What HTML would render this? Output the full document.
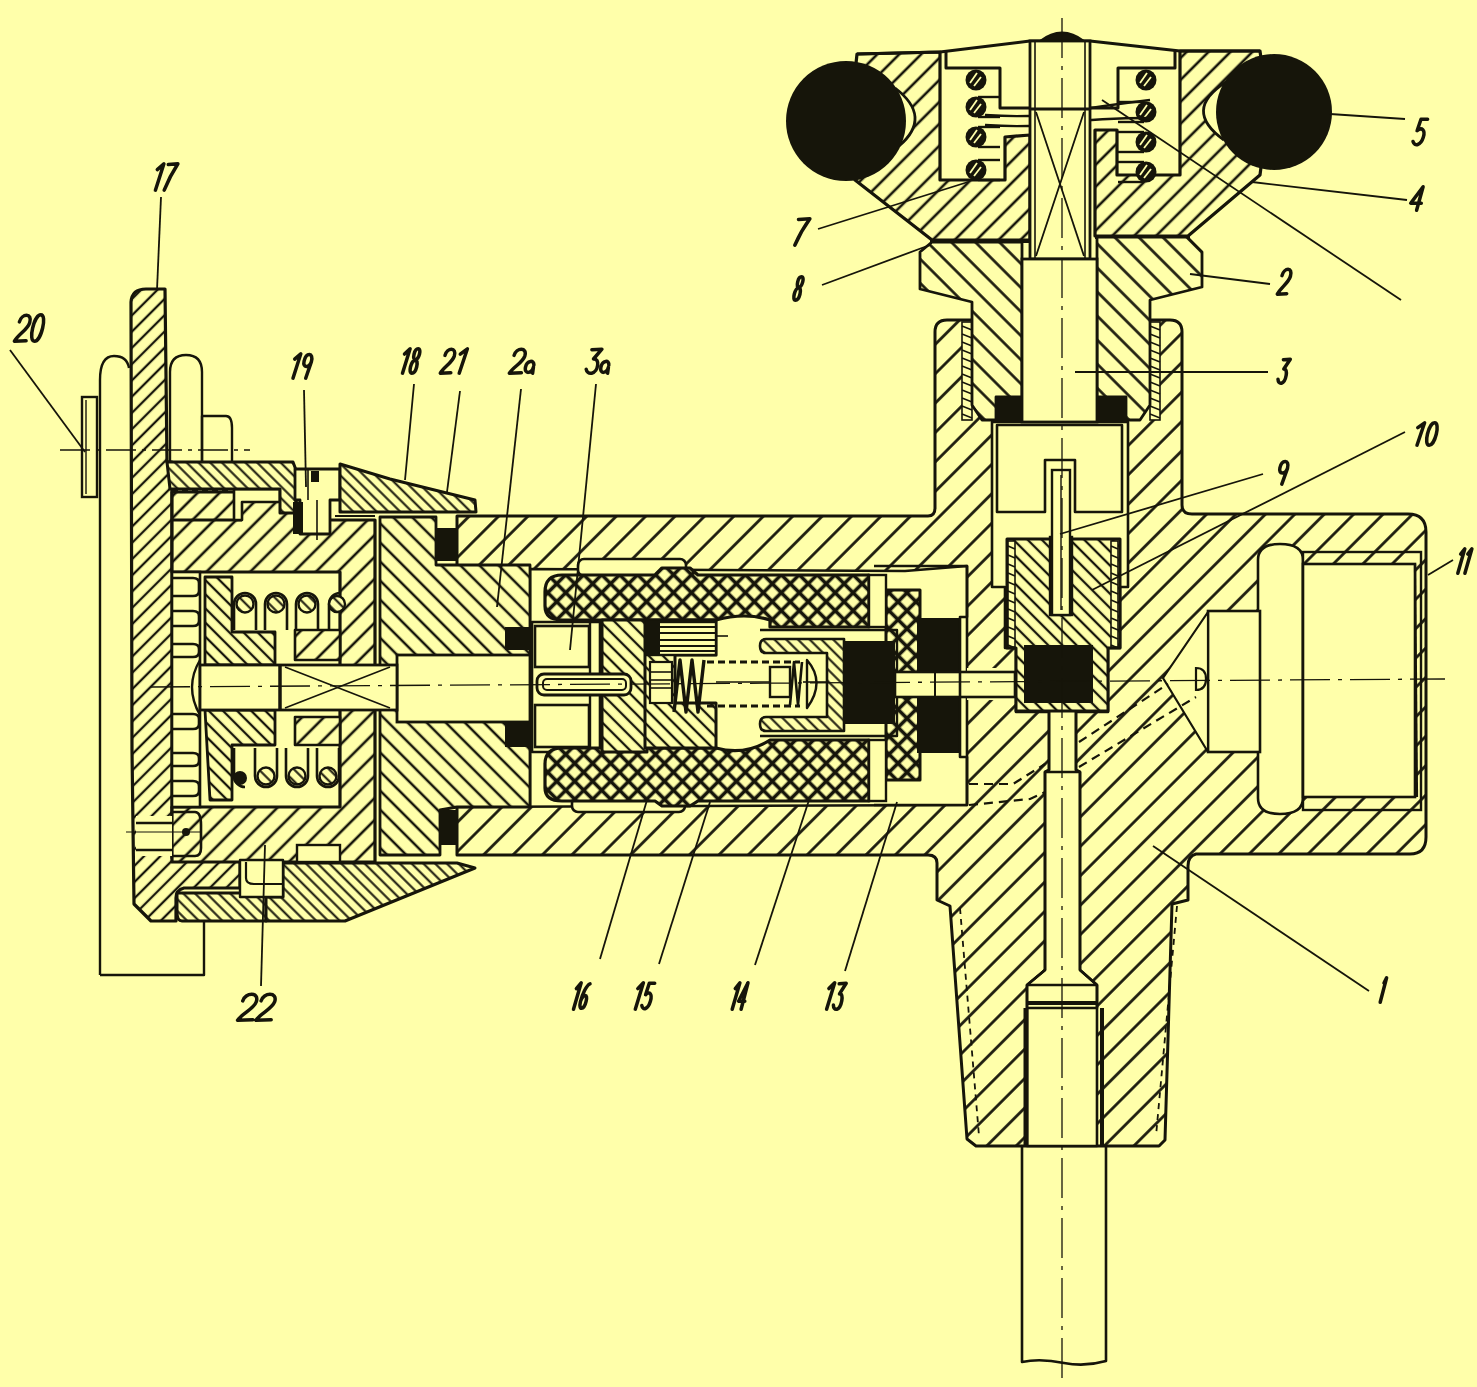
<!DOCTYPE html>
<html><head><meta charset="utf-8"><style>
html,body{margin:0;padding:0;background:#FFFFAA;}
svg{display:block;}
</style></head><body>
<svg width="1477" height="1387" viewBox="0 0 1477 1387">
<defs><pattern id="F22" patternUnits="userSpaceOnUse" width="15.5" height="15.5" patternTransform="rotate(-45)"><rect width="15.5" height="15.5" fill="#FFFFAA"/><line x1="0" y1="7.75" x2="15.5" y2="7.75" stroke="#16150a" stroke-width="2.6"/></pattern><pattern id="F20" patternUnits="userSpaceOnUse" width="14" height="14" patternTransform="rotate(-45)"><rect width="14" height="14" fill="#FFFFAA"/><line x1="0" y1="7.0" x2="14" y2="7.0" stroke="#16150a" stroke-width="2.5"/></pattern><pattern id="F28" patternUnits="userSpaceOnUse" width="20.8" height="20.8" patternTransform="rotate(-45)"><rect width="20.8" height="20.8" fill="#FFFFAA"/><line x1="0" y1="10.4" x2="20.8" y2="10.4" stroke="#16150a" stroke-width="2.7"/></pattern><pattern id="F16" patternUnits="userSpaceOnUse" width="11.5" height="11.5" patternTransform="rotate(-45)"><rect width="11.5" height="11.5" fill="#FFFFAA"/><line x1="0" y1="5.75" x2="11.5" y2="5.75" stroke="#16150a" stroke-width="2.3"/></pattern><pattern id="B24" patternUnits="userSpaceOnUse" width="17" height="17" patternTransform="rotate(45)"><rect width="17" height="17" fill="#FFFFAA"/><line x1="0" y1="8.5" x2="17" y2="8.5" stroke="#16150a" stroke-width="2.6"/></pattern><pattern id="B19" patternUnits="userSpaceOnUse" width="13.5" height="13.5" patternTransform="rotate(45)"><rect width="13.5" height="13.5" fill="#FFFFAA"/><line x1="0" y1="6.75" x2="13.5" y2="6.75" stroke="#16150a" stroke-width="2.5"/></pattern><pattern id="B14" patternUnits="userSpaceOnUse" width="10" height="10" patternTransform="rotate(45)"><rect width="10" height="10" fill="#FFFFAA"/><line x1="0" y1="5.0" x2="10" y2="5.0" stroke="#16150a" stroke-width="2.3"/></pattern><pattern id="B10" patternUnits="userSpaceOnUse" width="8.3" height="8.3" patternTransform="rotate(45)"><rect width="8.3" height="8.3" fill="#FFFFAA"/><line x1="0" y1="4.15" x2="8.3" y2="4.15" stroke="#16150a" stroke-width="2.0"/></pattern><pattern id="X" patternUnits="userSpaceOnUse" width="12.7" height="12.7" patternTransform="rotate(45)"><rect width="12.7" height="12.7" fill="#FFFFAA"/><line x1="0" y1="6.35" x2="12.7" y2="6.35" stroke="#16150a" stroke-width="3.6"/><line x1="6.35" y1="0" x2="6.35" y2="12.7" stroke="#16150a" stroke-width="3.6"/></pattern></defs>
<rect width="1477" height="1387" fill="#FFFFAA"/>
<path d="M457,516 L928,516 Q935,516 935,508 L935,332 Q935,320 947,320 L1170,320 Q1182,320 1182,332 L1182,505 Q1182,514 1192,514 L1408,514 Q1426,514 1426,532 L1426,837 Q1426,854 1410,854 L1196,854 Q1188,856 1188,866 L1188,900 L1172,904 L1165,1140 L1159,1146 L976,1146 L967,1139 L950,906 L937,900 L937,863 Q937,855 928,855 L457,855 Z" fill="url(#F28)" stroke="#16150a" stroke-width="3" stroke-linejoin="round" />
<path d="M530,569 L905,571 L905,571 L967,566 L967,805 L457,807 L457,805 L530,805 Z" fill="#FFFFAA" stroke="#16150a" stroke-width="2.6" stroke-linejoin="round" />
<rect x="578" y="559" width="108" height="17" rx="6" fill="#FFFFAA" stroke="#16150a" stroke-width="2.6"/>
<rect x="572" y="797" width="113" height="15" rx="6" fill="#FFFFAA" stroke="#16150a" stroke-width="2.6"/>
<path d="M992,422 L1128,422 L1128,587 L1120,587 L1120,648 L1108,648 L1108,712 L1076,712 L1076,770 L1080,772 L1080,970 L1097,985 L1097,1146 L1027,1146 L1027,985 L1045,970 L1045,772 L1049,770 L1049,712 L1016,712 L1016,648 L1005,648 L1005,587 L992,587 Z" fill="#FFFFAA" stroke="#16150a" stroke-width="2.6" stroke-linejoin="round" />
<rect x="967" y="668" width="40" height="32" rx="0" fill="#FFFFAA" stroke="#16150a" stroke-width="0"/>
<path d="M1258,560 Q1258,544 1280,544 Q1303,544 1303,560 L1303,798 Q1303,814 1280,814 Q1258,814 1258,798 Z" fill="#FFFFAA" stroke="#16150a" stroke-width="2.6" stroke-linejoin="round" />
<rect x="1303" y="552" width="118" height="258" rx="0" fill="url(#F28)" stroke="#16150a" stroke-width="2.4"/>
<rect x="1303" y="564" width="112" height="233" rx="0" fill="#FFFFAA" stroke="#16150a" stroke-width="2.6"/>
<line x1="1415" y1="564" x2="1417" y2="797" stroke="#16150a" stroke-width="2.2"/>
<rect x="1208" y="611" width="52" height="141" rx="0" fill="#FFFFAA" stroke="#16150a" stroke-width="2.6"/>
<path d="M1163,678 L1208,612 L1208,752 Z" fill="#FFFFAA" stroke="#16150a" stroke-width="2.2" stroke-linejoin="round" />
<rect x="962" y="322" width="10" height="98" rx="0" fill="#FFFFAA" stroke="#16150a" stroke-width="1.6"/>
<rect x="1150" y="322" width="10" height="98" rx="0" fill="#FFFFAA" stroke="#16150a" stroke-width="1.6"/>
<line x1="962" y1="326" x2="972" y2="330" stroke="#16150a" stroke-width="1.4"/>
<line x1="1150" y1="326" x2="1160" y2="330" stroke="#16150a" stroke-width="1.4"/>
<line x1="962" y1="334" x2="972" y2="338" stroke="#16150a" stroke-width="1.4"/>
<line x1="1150" y1="334" x2="1160" y2="338" stroke="#16150a" stroke-width="1.4"/>
<line x1="962" y1="342" x2="972" y2="346" stroke="#16150a" stroke-width="1.4"/>
<line x1="1150" y1="342" x2="1160" y2="346" stroke="#16150a" stroke-width="1.4"/>
<line x1="962" y1="350" x2="972" y2="354" stroke="#16150a" stroke-width="1.4"/>
<line x1="1150" y1="350" x2="1160" y2="354" stroke="#16150a" stroke-width="1.4"/>
<line x1="962" y1="358" x2="972" y2="362" stroke="#16150a" stroke-width="1.4"/>
<line x1="1150" y1="358" x2="1160" y2="362" stroke="#16150a" stroke-width="1.4"/>
<line x1="962" y1="366" x2="972" y2="370" stroke="#16150a" stroke-width="1.4"/>
<line x1="1150" y1="366" x2="1160" y2="370" stroke="#16150a" stroke-width="1.4"/>
<line x1="962" y1="374" x2="972" y2="378" stroke="#16150a" stroke-width="1.4"/>
<line x1="1150" y1="374" x2="1160" y2="378" stroke="#16150a" stroke-width="1.4"/>
<line x1="962" y1="382" x2="972" y2="386" stroke="#16150a" stroke-width="1.4"/>
<line x1="1150" y1="382" x2="1160" y2="386" stroke="#16150a" stroke-width="1.4"/>
<line x1="962" y1="390" x2="972" y2="394" stroke="#16150a" stroke-width="1.4"/>
<line x1="1150" y1="390" x2="1160" y2="394" stroke="#16150a" stroke-width="1.4"/>
<line x1="962" y1="398" x2="972" y2="402" stroke="#16150a" stroke-width="1.4"/>
<line x1="1150" y1="398" x2="1160" y2="402" stroke="#16150a" stroke-width="1.4"/>
<line x1="962" y1="406" x2="972" y2="410" stroke="#16150a" stroke-width="1.4"/>
<line x1="1150" y1="406" x2="1160" y2="410" stroke="#16150a" stroke-width="1.4"/>
<line x1="962" y1="414" x2="972" y2="418" stroke="#16150a" stroke-width="1.4"/>
<line x1="1150" y1="414" x2="1160" y2="418" stroke="#16150a" stroke-width="1.4"/>
<line x1="960" y1="908" x2="979" y2="1136" stroke="#16150a" stroke-width="1.8" stroke-dasharray="6 5"/>
<line x1="1177" y1="906" x2="1156" y2="1136" stroke="#16150a" stroke-width="1.8" stroke-dasharray="6 5"/>
<line x1="1026" y1="1008" x2="1026" y2="1146" stroke="#16150a" stroke-width="5"/>
<line x1="1102" y1="1008" x2="1102" y2="1146" stroke="#16150a" stroke-width="4"/>
<path d="M1049,712 L1049,770 L1045,772 L1045,970 L1027,985 L1027,1008 L1097,1008 L1097,985 L1080,970 L1080,772 L1076,770 L1076,712" fill="none" stroke="#16150a" stroke-width="2.6" stroke-linejoin="round" />
<line x1="1045" y1="772" x2="1080" y2="772" stroke="#16150a" stroke-width="2.4"/>
<line x1="1027" y1="985" x2="1097" y2="985" stroke="#16150a" stroke-width="2.4"/>
<line x1="1027" y1="1003" x2="1097" y2="1003" stroke="#16150a" stroke-width="4"/>
<path d="M1022,1146 L1022,1362 Q1040,1358 1064,1363 Q1085,1367 1106,1361 L1106,1146" fill="none" stroke="#16150a" stroke-width="2.6" stroke-linejoin="round" />
<path d="M857,54 L940,52 L940,180 L1005,180 L1005,137 L1030,135 L1030,240 L932,240 L855,180 L850,120 Z" fill="url(#F22)" stroke="#16150a" stroke-width="3.2" stroke-linejoin="round" />
<path d="M895,88 Q933,117 899,146 L870,146 L870,88 Z" fill="#FFFFAA" stroke="#16150a" stroke-width="0" stroke-linejoin="round" />
<path d="M895,88 Q933,117 899,146" fill="none" stroke="#16150a" stroke-width="2.8" stroke-linejoin="round" />
<path d="M1180,51 L1260,51 L1268,112 L1260,175 L1188,236 L1095,236 L1095,130 L1117,130 L1117,175 L1180,175 Z" fill="url(#F22)" stroke="#16150a" stroke-width="3.2" stroke-linejoin="round" />
<path d="M1226,82 Q1182,110 1224,140 L1250,140 L1250,82 Z" fill="#FFFFAA" stroke="#16150a" stroke-width="0" stroke-linejoin="round" />
<path d="M1226,82 Q1182,110 1224,140" fill="none" stroke="#16150a" stroke-width="2.8" stroke-linejoin="round" />
<path d="M857,54 L940,52 L1030,41 L1090,41 L1180,51 L1260,51" fill="none" stroke="#16150a" stroke-width="3" stroke-linejoin="round" />
<path d="M1040,41 Q1062,24 1084,41" fill="#16150a" stroke="#16150a" stroke-width="2" stroke-linejoin="round" />
<path d="M946,52 L946,68 L1000,68 L1000,108 L1032,108" fill="none" stroke="#16150a" stroke-width="3" stroke-linejoin="round" />
<path d="M1175,51 L1175,68 L1118,68 L1118,108 L1087,108" fill="none" stroke="#16150a" stroke-width="3" stroke-linejoin="round" />
<circle cx="976" cy="80" r="10.5" fill="#16150a"/>
<line x1="971" y1="84" x2="978" y2="74" stroke="#16150a" stroke-width="2.0"/>
<line x1="974" y1="86" x2="981" y2="77" stroke="#FFFFAA" stroke-width="1.8"/>
<line x1="970" y1="83" x2="977" y2="73" stroke="#FFFFAA" stroke-width="1.8"/>
<circle cx="976" cy="107" r="10.5" fill="#16150a"/>
<line x1="971" y1="111" x2="978" y2="101" stroke="#16150a" stroke-width="2.0"/>
<line x1="974" y1="113" x2="981" y2="104" stroke="#FFFFAA" stroke-width="1.8"/>
<line x1="970" y1="110" x2="977" y2="100" stroke="#FFFFAA" stroke-width="1.8"/>
<circle cx="976" cy="137" r="10.5" fill="#16150a"/>
<line x1="971" y1="141" x2="978" y2="131" stroke="#16150a" stroke-width="2.0"/>
<line x1="974" y1="143" x2="981" y2="134" stroke="#FFFFAA" stroke-width="1.8"/>
<line x1="970" y1="140" x2="977" y2="130" stroke="#FFFFAA" stroke-width="1.8"/>
<circle cx="976" cy="170" r="10.5" fill="#16150a"/>
<line x1="971" y1="174" x2="978" y2="164" stroke="#16150a" stroke-width="2.0"/>
<line x1="974" y1="176" x2="981" y2="167" stroke="#FFFFAA" stroke-width="1.8"/>
<line x1="970" y1="173" x2="977" y2="163" stroke="#FFFFAA" stroke-width="1.8"/>
<circle cx="1146" cy="80" r="10.5" fill="#16150a"/>
<line x1="1141" y1="84" x2="1148" y2="74" stroke="#16150a" stroke-width="2.0"/>
<line x1="1144" y1="86" x2="1151" y2="77" stroke="#FFFFAA" stroke-width="1.8"/>
<line x1="1140" y1="83" x2="1147" y2="73" stroke="#FFFFAA" stroke-width="1.8"/>
<circle cx="1146" cy="112" r="10.5" fill="#16150a"/>
<line x1="1141" y1="116" x2="1148" y2="106" stroke="#16150a" stroke-width="2.0"/>
<line x1="1144" y1="118" x2="1151" y2="109" stroke="#FFFFAA" stroke-width="1.8"/>
<line x1="1140" y1="115" x2="1147" y2="105" stroke="#FFFFAA" stroke-width="1.8"/>
<circle cx="1146" cy="142" r="10.5" fill="#16150a"/>
<line x1="1141" y1="146" x2="1148" y2="136" stroke="#16150a" stroke-width="2.0"/>
<line x1="1144" y1="148" x2="1151" y2="139" stroke="#FFFFAA" stroke-width="1.8"/>
<line x1="1140" y1="145" x2="1147" y2="135" stroke="#FFFFAA" stroke-width="1.8"/>
<circle cx="1146" cy="172" r="10.5" fill="#16150a"/>
<line x1="1141" y1="176" x2="1148" y2="166" stroke="#16150a" stroke-width="2.0"/>
<line x1="1144" y1="178" x2="1151" y2="169" stroke="#FFFFAA" stroke-width="1.8"/>
<line x1="1140" y1="175" x2="1147" y2="165" stroke="#FFFFAA" stroke-width="1.8"/>
<line x1="978" y1="97" x2="1000" y2="97" stroke="#16150a" stroke-width="2.4"/>
<line x1="978" y1="117" x2="1000" y2="117" stroke="#16150a" stroke-width="2.4"/>
<line x1="978" y1="127" x2="1000" y2="127" stroke="#16150a" stroke-width="2.4"/>
<line x1="978" y1="147" x2="1000" y2="147" stroke="#16150a" stroke-width="2.4"/>
<line x1="978" y1="160" x2="1000" y2="160" stroke="#16150a" stroke-width="2.4"/>
<line x1="978" y1="180" x2="1000" y2="180" stroke="#16150a" stroke-width="2.4"/>
<line x1="1118" y1="102" x2="1144" y2="102" stroke="#16150a" stroke-width="2.4"/>
<line x1="1118" y1="122" x2="1144" y2="122" stroke="#16150a" stroke-width="2.4"/>
<line x1="1118" y1="132" x2="1144" y2="132" stroke="#16150a" stroke-width="2.4"/>
<line x1="1118" y1="152" x2="1144" y2="152" stroke="#16150a" stroke-width="2.4"/>
<line x1="1118" y1="162" x2="1144" y2="162" stroke="#16150a" stroke-width="2.4"/>
<line x1="1118" y1="182" x2="1144" y2="182" stroke="#16150a" stroke-width="2.4"/>
<path d="M985,115 Q1030,118 1060,113 Q1100,106 1150,100" fill="none" stroke="#16150a" stroke-width="2.4" stroke-linejoin="round" />
<path d="M985,125 Q1030,128 1060,123 Q1100,118 1150,118" fill="none" stroke="#16150a" stroke-width="2.4" stroke-linejoin="round" />
<rect x="1030" y="41" width="60" height="218" rx="0" fill="#FFFFAA" stroke="#16150a" stroke-width="2.8"/>
<line x1="1035" y1="41" x2="1035" y2="259" stroke="#16150a" stroke-width="1.6"/>
<line x1="1085" y1="41" x2="1085" y2="259" stroke="#16150a" stroke-width="1.6"/>
<line x1="1030" y1="109" x2="1090" y2="109" stroke="#16150a" stroke-width="3"/>
<line x1="1036" y1="112" x2="1084" y2="256" stroke="#16150a" stroke-width="1.8"/>
<line x1="1084" y1="112" x2="1036" y2="256" stroke="#16150a" stroke-width="1.8"/>
<circle cx="846" cy="121" r="60" fill="#16150a"/>
<circle cx="1274" cy="112" r="58" fill="#16150a"/>
<line x1="930" y1="241" x2="1030" y2="241" stroke="#16150a" stroke-width="4"/>
<line x1="1095" y1="237" x2="1190" y2="237" stroke="#16150a" stroke-width="4"/>
<path d="M920,252 L932,242 L1022,242 L1022,397 L996,397 L996,420 L982,420 L972,405 L972,302 L920,289 Z" fill="url(#B24)" stroke="#16150a" stroke-width="2.8" stroke-linejoin="round" />
<path d="M1097,237 L1187,237 L1202,252 L1202,287 L1150,300 L1150,405 L1140,420 L1126,420 L1126,397 L1097,397 Z" fill="url(#B24)" stroke="#16150a" stroke-width="2.8" stroke-linejoin="round" />
<rect x="1022" y="259" width="75" height="163" rx="0" fill="#FFFFAA" stroke="#16150a" stroke-width="2.8"/>
<rect x="996" y="397" width="26" height="25" rx="0" fill="#16150a" stroke="#16150a" stroke-width="0"/>
<rect x="1097" y="396" width="29" height="26" rx="0" fill="#16150a" stroke="#16150a" stroke-width="0"/>
<path d="M997,425 L1122,425 L1122,512 L1075,512 L1075,460 L1045,460 L1045,512 L997,512 Z" fill="#FFFFAA" stroke="#16150a" stroke-width="2.6" stroke-linejoin="round" />
<path d="M1007,539 L1120,539 L1120,648 L1108,648 L1108,711 L1016,711 L1016,648 L1007,648 Z" fill="url(#B14)" stroke="#16150a" stroke-width="3" stroke-linejoin="round" />
<rect x="1008" y="541" width="7" height="106" rx="0" fill="#FFFFAA" stroke="#16150a" stroke-width="1.6"/>
<rect x="1111" y="541" width="7" height="106" rx="0" fill="#FFFFAA" stroke="#16150a" stroke-width="1.6"/>
<line x1="1008" y1="546" x2="1015" y2="549" stroke="#16150a" stroke-width="1.6"/>
<line x1="1111" y1="546" x2="1118" y2="549" stroke="#16150a" stroke-width="1.6"/>
<line x1="1008" y1="555" x2="1015" y2="558" stroke="#16150a" stroke-width="1.6"/>
<line x1="1111" y1="555" x2="1118" y2="558" stroke="#16150a" stroke-width="1.6"/>
<line x1="1008" y1="564" x2="1015" y2="567" stroke="#16150a" stroke-width="1.6"/>
<line x1="1111" y1="564" x2="1118" y2="567" stroke="#16150a" stroke-width="1.6"/>
<line x1="1008" y1="573" x2="1015" y2="576" stroke="#16150a" stroke-width="1.6"/>
<line x1="1111" y1="573" x2="1118" y2="576" stroke="#16150a" stroke-width="1.6"/>
<line x1="1008" y1="582" x2="1015" y2="585" stroke="#16150a" stroke-width="1.6"/>
<line x1="1111" y1="582" x2="1118" y2="585" stroke="#16150a" stroke-width="1.6"/>
<line x1="1008" y1="591" x2="1015" y2="594" stroke="#16150a" stroke-width="1.6"/>
<line x1="1111" y1="591" x2="1118" y2="594" stroke="#16150a" stroke-width="1.6"/>
<line x1="1008" y1="600" x2="1015" y2="603" stroke="#16150a" stroke-width="1.6"/>
<line x1="1111" y1="600" x2="1118" y2="603" stroke="#16150a" stroke-width="1.6"/>
<line x1="1008" y1="609" x2="1015" y2="612" stroke="#16150a" stroke-width="1.6"/>
<line x1="1111" y1="609" x2="1118" y2="612" stroke="#16150a" stroke-width="1.6"/>
<line x1="1008" y1="618" x2="1015" y2="621" stroke="#16150a" stroke-width="1.6"/>
<line x1="1111" y1="618" x2="1118" y2="621" stroke="#16150a" stroke-width="1.6"/>
<line x1="1008" y1="627" x2="1015" y2="630" stroke="#16150a" stroke-width="1.6"/>
<line x1="1111" y1="627" x2="1118" y2="630" stroke="#16150a" stroke-width="1.6"/>
<line x1="1008" y1="636" x2="1015" y2="639" stroke="#16150a" stroke-width="1.6"/>
<line x1="1111" y1="636" x2="1118" y2="639" stroke="#16150a" stroke-width="1.6"/>
<line x1="1008" y1="645" x2="1015" y2="648" stroke="#16150a" stroke-width="1.6"/>
<line x1="1111" y1="645" x2="1118" y2="648" stroke="#16150a" stroke-width="1.6"/>
<rect x="1050" y="537" width="22" height="78" rx="0" fill="#FFFFAA" stroke="#16150a" stroke-width="2.4"/>
<rect x="1052" y="470" width="18" height="145" rx="0" fill="#FFFFAA" stroke="#16150a" stroke-width="2.4"/>
<line x1="1061" y1="475" x2="1061" y2="610" stroke="#16150a" stroke-width="1.4"/>
<rect x="1024" y="645" width="69" height="58" rx="0" fill="#16150a" stroke="#16150a" stroke-width="0"/>
<path d="M1196,668 Q1206,668 1206,679 Q1206,690 1196,690 Z" fill="#FFFFAA" stroke="#16150a" stroke-width="2.2"/>
<path d="M969,784 L1013,784 L1045,764" fill="none" stroke="#16150a" stroke-width="2.2" stroke-linejoin="round" stroke-dasharray="9 6"/>
<path d="M1079,742 L1168,684" fill="none" stroke="#16150a" stroke-width="2.2" stroke-linejoin="round" stroke-dasharray="9 6"/>
<path d="M969,805 L1030,799 L1045,792" fill="none" stroke="#16150a" stroke-width="2.2" stroke-linejoin="round" stroke-dasharray="9 6"/>
<path d="M1079,767 L1196,697" fill="none" stroke="#16150a" stroke-width="2.2" stroke-linejoin="round" stroke-dasharray="9 6"/>
<path d="M380,517 L436,517 L436,565 L530,565 L530,807 L457,807 L440,810 L440,855 L380,855 Z" fill="url(#B19)" stroke="#16150a" stroke-width="2.8" stroke-linejoin="round" />
<rect x="397" y="655" width="133" height="67" rx="0" fill="#FFFFAA" stroke="#16150a" stroke-width="2.8"/>
<rect x="436" y="528" width="20" height="33" rx="0" fill="#16150a" stroke="#16150a" stroke-width="0"/>
<rect x="440" y="810" width="17" height="35" rx="0" fill="#16150a" stroke="#16150a" stroke-width="0"/>
<rect x="505" y="627" width="25" height="23" rx="0" fill="#16150a" stroke="#16150a" stroke-width="0"/>
<rect x="505" y="722" width="25" height="25" rx="0" fill="#16150a" stroke="#16150a" stroke-width="0"/>
<path d="M532,622 L600,622 L600,752 L532,752 Z" fill="#FFFFAA" stroke="#16150a" stroke-width="2.6" stroke-linejoin="round" />
<rect x="535" y="626" width="54" height="41" rx="0" fill="#FFFFAA" stroke="#16150a" stroke-width="2.6"/>
<rect x="535" y="705" width="54" height="42" rx="0" fill="#FFFFAA" stroke="#16150a" stroke-width="2.6"/>
<line x1="590" y1="622" x2="590" y2="752" stroke="#16150a" stroke-width="2.4"/>
<path d="M545,592 Q545,575 562,575 L655,575 L662,568 L690,568 L698,575 L869,575 L869,627 L770,627 L770,620 Q745,612 716,620 L600,620 L562,620 Q545,620 545,606 Z" fill="url(#X)" stroke="#16150a" stroke-width="3.2" stroke-linejoin="round" />
<path d="M545,764 Q545,748 562,748 L716,748 Q745,756 770,740 L869,740 L869,801 L698,801 L690,806 L662,806 L655,801 L562,801 Q545,801 545,788 Z" fill="url(#X)" stroke="#16150a" stroke-width="3.2" stroke-linejoin="round" />
<path d="M886,590 L920,590 L920,780 L886,780 Z" fill="url(#X)" stroke="#16150a" stroke-width="3" stroke-linejoin="round" />
<rect x="869" y="575" width="17" height="52" rx="0" fill="#FFFFAA" stroke="#16150a" stroke-width="2.4"/>
<rect x="869" y="740" width="17" height="61" rx="0" fill="#FFFFAA" stroke="#16150a" stroke-width="2.4"/>
<path d="M602,620 L647,620 L647,752 L602,752 Z" fill="url(#B14)" stroke="#16150a" stroke-width="3" stroke-linejoin="round" />
<path d="M645,620 L716,620 L716,655 L675,655 L675,703 L716,703 L716,748 L645,748 Z" fill="url(#B14)" stroke="#16150a" stroke-width="3" stroke-linejoin="round" />
<rect x="647" y="622" width="69" height="33" rx="0" fill="#FFFFAA" stroke="#16150a" stroke-width="2.4"/>
<rect x="647" y="622" width="13" height="33" rx="0" fill="#16150a" stroke="#16150a" stroke-width="0"/>
<line x1="658" y1="627" x2="716" y2="627" stroke="#16150a" stroke-width="2.0"/>
<line x1="658" y1="633" x2="716" y2="633" stroke="#16150a" stroke-width="2.0"/>
<line x1="658" y1="640" x2="716" y2="640" stroke="#16150a" stroke-width="2.0"/>
<line x1="658" y1="646" x2="716" y2="646" stroke="#16150a" stroke-width="2.0"/>
<line x1="658" y1="651" x2="716" y2="651" stroke="#16150a" stroke-width="2.0"/>
<line x1="716" y1="636" x2="728" y2="636" stroke="#16150a" stroke-width="1.6"/>
<rect x="650" y="662" width="22" height="41" rx="0" fill="#FFFFAA" stroke="#16150a" stroke-width="2.2"/>
<line x1="650" y1="672" x2="672" y2="672" stroke="#16150a" stroke-width="1.6"/>
<line x1="650" y1="680" x2="672" y2="680" stroke="#16150a" stroke-width="1.6"/>
<line x1="650" y1="688" x2="672" y2="688" stroke="#16150a" stroke-width="1.6"/>
<rect x="537" y="674" width="94" height="21" rx="7" fill="#FFFFAA" stroke="#16150a" stroke-width="2.8"/>
<rect x="543" y="679" width="83" height="11" rx="4" fill="none" stroke="#16150a" stroke-width="2.0"/>
<path d="M760,630 L897,630 L897,736 L760,736" fill="none" stroke="#16150a" stroke-width="2.4" stroke-linejoin="round" />
<path d="M766,639 L844,639 L844,731 L766,731 Q760,731 760,724 Q760,717 766,717 L827,717 L827,653 L766,653 Q760,653 760,646 Q760,639 766,639 Z" fill="url(#B10)" stroke="#16150a" stroke-width="2.6" stroke-linejoin="round" />
<line x1="707" y1="662" x2="800" y2="662" stroke="#16150a" stroke-width="2.8" stroke-dasharray="7 4"/>
<line x1="707" y1="706" x2="800" y2="706" stroke="#16150a" stroke-width="2.8" stroke-dasharray="7 4"/>
<line x1="716" y1="682" x2="770" y2="682" stroke="#16150a" stroke-width="1.4"/>
<path d="M674,712 L680,660 L686,712 L692,660 L698,712 L704,660" fill="none" stroke="#16150a" stroke-width="3.4" stroke-linejoin="round" />
<path d="M790,705 L794,662 L798,705 L802,662" fill="none" stroke="#16150a" stroke-width="2.6" stroke-linejoin="round" />
<rect x="770" y="667" width="20" height="30" rx="0" fill="#FFFFAA" stroke="#16150a" stroke-width="2.4"/>
<path d="M807,660 Q826,682 807,708 Z" fill="#FFFFAA" stroke="#16150a" stroke-width="2.4" stroke-linejoin="round" />
<line x1="803" y1="682" x2="826" y2="682" stroke="#16150a" stroke-width="1.6"/>
<rect x="844" y="641" width="51" height="83" rx="0" fill="#16150a" stroke="#16150a" stroke-width="0"/>
<rect x="917" y="618" width="43" height="135" rx="0" fill="#16150a" stroke="#16150a" stroke-width="0"/>
<rect x="895" y="672" width="120" height="25" rx="0" fill="#FFFFAA" stroke="#16150a" stroke-width="2.6"/>
<line x1="935" y1="672" x2="935" y2="697" stroke="#16150a" stroke-width="2"/>
<line x1="960" y1="672" x2="960" y2="697" stroke="#16150a" stroke-width="2"/>
<path d="M874,566 L967,566 L967,617 L960,617 L960,757 L967,757 L967,805 L874,805" fill="none" stroke="#16150a" stroke-width="2.6" stroke-linejoin="round" />
<path d="M100,975 L100,380 Q100,356 114,356 Q127,356 129,368" fill="none" stroke="#16150a" stroke-width="2.4" stroke-linejoin="round" />
<path d="M100,975 L204,975 L204,921" fill="none" stroke="#16150a" stroke-width="2.4" stroke-linejoin="round" />
<path d="M170,462 L170,372 Q170,355 186,355 Q202,355 202,372 L202,462" fill="none" stroke="#16150a" stroke-width="2.4" stroke-linejoin="round" />
<path d="M202,462 L202,416 L226,416 Q232,416 232,428 L232,462" fill="none" stroke="#16150a" stroke-width="2.4" stroke-linejoin="round" />
<rect x="82" y="397" width="15" height="100" rx="0" fill="none" stroke="#16150a" stroke-width="2.4"/>
<line x1="86" y1="400" x2="86" y2="494" stroke="#16150a" stroke-width="1.4"/>
<path d="M131,302 Q132,289 146,289 L165,289 L167,462 L172,462 L172,858 L240,858 L240,888 L184,888 Q176,890 176,898 L176,921 L151,921 L134,904 L132,750 Z" fill="url(#F16)" stroke="#16150a" stroke-width="3.2" stroke-linejoin="round" />
<path d="M172,492 L296,492 L296,520 L375,520 L375,862 L172,862 L172,807 L340,807 L340,572 L172,572 Z" fill="url(#F22)" stroke="#16150a" stroke-width="3.2" stroke-linejoin="round" />
<path d="M295,630 L340,630 L340,660 L295,660 Z" fill="url(#F22)" stroke="#16150a" stroke-width="2.6" stroke-linejoin="round" />
<path d="M295,717 L340,717 L340,745 L295,745 Z" fill="url(#F22)" stroke="#16150a" stroke-width="2.6" stroke-linejoin="round" />
<line x1="172" y1="520" x2="242" y2="520" stroke="#16150a" stroke-width="3"/>
<path d="M234,489 L280,489 L280,502 L242,502 L242,520 L234,520 Z" fill="#FFFFAA" stroke="#16150a" stroke-width="2.6" stroke-linejoin="round" />
<path d="M167,462 L293,462 L296,470 L296,513 L280,513 L280,489 L170,489 Z" fill="url(#B10)" stroke="#16150a" stroke-width="3" stroke-linejoin="round" />
<line x1="172" y1="491" x2="232" y2="491" stroke="#16150a" stroke-width="2.2" stroke-dasharray="6 4"/>
<path d="M295,469 L340,469 L340,500 L330,500 L330,534 L300,534 L300,500 L295,500 Z" fill="#FFFFAA" stroke="#16150a" stroke-width="2.8" stroke-linejoin="round" />
<rect x="293" y="502" width="10" height="32" rx="0" fill="#16150a" stroke="#16150a" stroke-width="0"/>
<rect x="311" y="471" width="8" height="11" rx="0" fill="#16150a" stroke="#16150a" stroke-width="0"/>
<line x1="308" y1="469" x2="308" y2="500" stroke="#16150a" stroke-width="1.6"/>
<line x1="317" y1="500" x2="317" y2="540" stroke="#16150a" stroke-width="1.6"/>
<path d="M340,464 L390,479 L475,500 L476,512 L340,512 Z" fill="url(#B10)" stroke="#16150a" stroke-width="3" stroke-linejoin="round" />
<line x1="335" y1="516" x2="375" y2="516" stroke="#16150a" stroke-width="2.2"/>
<rect x="172" y="572" width="28" height="235" rx="0" fill="#FFFFAA" stroke="#16150a" stroke-width="2.6"/>
<path d="M172,578 L193,578 Q199,578 199,583 L199,591 Q199,596 193,596 L172,596" fill="none" stroke="#16150a" stroke-width="2.6" stroke-linejoin="round" />
<path d="M172,611 L193,611 Q199,611 199,616 L199,621 Q199,626 193,626 L172,626" fill="none" stroke="#16150a" stroke-width="2.6" stroke-linejoin="round" />
<path d="M172,644 L193,644 Q199,644 199,649 L199,652 Q199,657 193,657 L172,657" fill="none" stroke="#16150a" stroke-width="2.6" stroke-linejoin="round" />
<path d="M172,714 L193,714 Q199,714 199,719 L199,724 Q199,729 193,729 L172,729" fill="none" stroke="#16150a" stroke-width="2.6" stroke-linejoin="round" />
<path d="M172,753 L193,753 Q199,753 199,758 L199,761 Q199,766 193,766 L172,766" fill="none" stroke="#16150a" stroke-width="2.6" stroke-linejoin="round" />
<path d="M172,781 L193,781 Q199,781 199,786 L199,791 Q199,796 193,796 L172,796" fill="none" stroke="#16150a" stroke-width="2.6" stroke-linejoin="round" />
<path d="M205,577 L232,577 L232,632 L275,632 L275,665 L205,665 Z" fill="url(#B14)" stroke="#16150a" stroke-width="2.8" stroke-linejoin="round" />
<path d="M205,710 L275,710 L275,745 L232,745 L232,800 L210,800 Z" fill="url(#B14)" stroke="#16150a" stroke-width="2.8" stroke-linejoin="round" />
<path d="M234,630 L234,604 A11,11 0 0 1 256,604 L256,630" fill="none" stroke="#16150a" stroke-width="2.6" stroke-linejoin="round" />
<circle cx="245" cy="604" r="8.5" fill="url(#B10)" stroke="#16150a" stroke-width="2.4"/>
<path d="M265,630 L265,604 A11,11 0 0 1 287,604 L287,630" fill="none" stroke="#16150a" stroke-width="2.6" stroke-linejoin="round" />
<circle cx="276" cy="604" r="8.5" fill="url(#B10)" stroke="#16150a" stroke-width="2.4"/>
<path d="M296,630 L296,604 A11,11 0 0 1 318,604 L318,630" fill="none" stroke="#16150a" stroke-width="2.6" stroke-linejoin="round" />
<circle cx="307" cy="604" r="8.5" fill="url(#B10)" stroke="#16150a" stroke-width="2.4"/>
<path d="M329,630 L329,604 A11,11 0 0 1 340,593" fill="none" stroke="#16150a" stroke-width="2.6" stroke-linejoin="round" />
<circle cx="337" cy="604" r="8" fill="url(#B10)" stroke="#16150a" stroke-width="2.4"/>
<path d="M255,748 L255,776 A11,11 0 0 0 277,776 L277,748" fill="none" stroke="#16150a" stroke-width="2.6" stroke-linejoin="round" />
<circle cx="266" cy="776" r="8.5" fill="url(#B10)" stroke="#16150a" stroke-width="2.4"/>
<path d="M286,748 L286,776 A11,11 0 0 0 308,776 L308,748" fill="none" stroke="#16150a" stroke-width="2.6" stroke-linejoin="round" />
<circle cx="297" cy="776" r="8.5" fill="url(#B10)" stroke="#16150a" stroke-width="2.4"/>
<path d="M317,748 L317,776 A11,11 0 0 0 339,776 L339,748" fill="none" stroke="#16150a" stroke-width="2.6" stroke-linejoin="round" />
<circle cx="328" cy="776" r="8.5" fill="url(#B10)" stroke="#16150a" stroke-width="2.4"/>
<path d="M234,748 L234,776 A11,11 0 0 0 245,787" fill="none" stroke="#16150a" stroke-width="2.6" stroke-linejoin="round" />
<circle cx="240" cy="778" r="7" fill="#16150a" stroke="#16150a" stroke-width="0"/>
<rect x="200" y="665" width="197" height="45" rx="0" fill="#FFFFAA" stroke="#16150a" stroke-width="2.8"/>
<line x1="285" y1="667" x2="390" y2="708" stroke="#16150a" stroke-width="1.6"/>
<line x1="285" y1="708" x2="390" y2="667" stroke="#16150a" stroke-width="1.6"/>
<line x1="280" y1="665" x2="280" y2="710" stroke="#16150a" stroke-width="3.5"/>
<path d="M200,660 Q184,687 200,715" fill="none" stroke="#16150a" stroke-width="2.4" stroke-linejoin="round" />
<rect x="136" y="816" width="36" height="40" rx="0" fill="#FFFFAA" stroke="#16150a" stroke-width="0"/>
<line x1="136" y1="823" x2="172" y2="823" stroke="#16150a" stroke-width="2.6"/>
<line x1="136" y1="850" x2="172" y2="850" stroke="#16150a" stroke-width="2.6"/>
<path d="M172,812 L195,812 Q201,812 201,825 L201,848 Q201,856 195,856 L172,856" fill="none" stroke="#16150a" stroke-width="2.6" stroke-linejoin="round" />
<circle cx="186" cy="832" r="4" fill="#16150a" stroke="#16150a" stroke-width="0"/>
<line x1="126" y1="832" x2="200" y2="832" stroke="#16150a" stroke-width="1.2"/>
<path d="M177,893 L266,893 L266,921 L182,921 Q177,921 177,912 Z" fill="url(#B10)" stroke="#16150a" stroke-width="3" stroke-linejoin="round" />
<path d="M283,863 L457,863 L475,868 L345,921 L266,921 L266,897 L283,897 Z" fill="url(#B10)" stroke="#16150a" stroke-width="3" stroke-linejoin="round" />
<path d="M240,860 L283,860 L283,897 L240,897 Z" fill="#FFFFAA" stroke="#16150a" stroke-width="2.4" stroke-linejoin="round" />
<path d="M246,862 L246,878 Q246,884 254,884 L283,884" fill="none" stroke="#16150a" stroke-width="2.2" stroke-linejoin="round" />
<rect x="297" y="845" width="43" height="17" rx="0" fill="#FFFFAA" stroke="#16150a" stroke-width="2.4"/>
<line x1="1062" y1="18" x2="1062" y2="1385" stroke="#16150a" stroke-width="1.3" stroke-dasharray="40 8 4 8"/>
<line x1="150" y1="687" x2="1445" y2="679" stroke="#16150a" stroke-width="1.3" stroke-dasharray="40 8 4 8"/>
<line x1="60" y1="450" x2="250" y2="450" stroke="#16150a" stroke-width="1.3" stroke-dasharray="30 6 4 6"/>
<line x1="161" y1="197" x2="157" y2="290" stroke="#16150a" stroke-width="1.8"/>
<line x1="10" y1="350" x2="85" y2="452" stroke="#16150a" stroke-width="1.8"/>
<line x1="304" y1="390" x2="306" y2="487" stroke="#16150a" stroke-width="1.8"/>
<line x1="414" y1="384" x2="405" y2="480" stroke="#16150a" stroke-width="1.8"/>
<line x1="460" y1="391" x2="447" y2="492" stroke="#16150a" stroke-width="1.8"/>
<line x1="521" y1="389" x2="497" y2="607" stroke="#16150a" stroke-width="1.8"/>
<line x1="596" y1="384" x2="570" y2="650" stroke="#16150a" stroke-width="1.8"/>
<line x1="818" y1="229" x2="968" y2="182" stroke="#16150a" stroke-width="1.8"/>
<line x1="822" y1="285" x2="930" y2="245" stroke="#16150a" stroke-width="1.8"/>
<line x1="1330" y1="114" x2="1405" y2="119" stroke="#16150a" stroke-width="1.8"/>
<line x1="1252" y1="182" x2="1407" y2="200" stroke="#16150a" stroke-width="1.8"/>
<line x1="1102" y1="100" x2="1401" y2="300" stroke="#16150a" stroke-width="1.8"/>
<line x1="1190" y1="274" x2="1270" y2="284" stroke="#16150a" stroke-width="1.8"/>
<line x1="1075" y1="372" x2="1268" y2="372" stroke="#16150a" stroke-width="1.8"/>
<line x1="1405" y1="432" x2="1092" y2="590" stroke="#16150a" stroke-width="1.8"/>
<line x1="1263" y1="474" x2="1060" y2="534" stroke="#16150a" stroke-width="1.8"/>
<line x1="1428" y1="575" x2="1453" y2="560" stroke="#16150a" stroke-width="1.8"/>
<line x1="1153" y1="846" x2="1369" y2="991" stroke="#16150a" stroke-width="1.8"/>
<line x1="265" y1="845" x2="261" y2="986" stroke="#16150a" stroke-width="1.8"/>
<line x1="600" y1="959" x2="647" y2="800" stroke="#16150a" stroke-width="1.8"/>
<line x1="659" y1="964" x2="710" y2="802" stroke="#16150a" stroke-width="1.8"/>
<line x1="755" y1="965" x2="810" y2="797" stroke="#16150a" stroke-width="1.8"/>
<line x1="845" y1="971" x2="897" y2="802" stroke="#16150a" stroke-width="1.8"/>
<path d="M157.3,169.6 L163.9,163.8 L155.4,190.2 M168.3,164.5 L177.9,163.8 C171.9,173.0 167.9,181.0 164.2,190.2" fill="none" stroke="#16150a" stroke-width="3.5" stroke-linecap="round" stroke-linejoin="round"/>
<path d="M19.4,321.9 C21.7,313.4 32.8,312.6 29.7,322.7 C27.3,330.1 18.7,333.8 14.4,341.2 L26.1,340.7 M40.8,314.8 C47.5,314.8 41.1,341.2 34.5,341.2 C27.8,341.2 34.2,314.8 40.8,314.8 Z" fill="none" stroke="#16150a" stroke-width="3.5" stroke-linecap="round" stroke-linejoin="round"/>
<path d="M294.7,359.1 L300.8,353.8 L293.0,378.2 M311.4,361.6 C313.8,352.3 306.2,352.3 304.1,361.1 C302.4,368.0 309.0,368.4 311.4,361.6 L305.7,378.2" fill="none" stroke="#16150a" stroke-width="3.5" stroke-linecap="round" stroke-linejoin="round"/>
<path d="M404.5,354.1 L410.1,348.8 L402.5,373.2 M415.3,360.0 C412.1,359.0 414.4,348.8 418.1,348.8 C421.8,348.8 419.1,359.0 415.3,360.0 C410.9,361.0 408.0,373.2 411.9,373.2 C416.2,373.2 419.1,361.0 415.3,360.0 Z" fill="none" stroke="#16150a" stroke-width="3.5" stroke-linecap="round" stroke-linejoin="round"/>
<path d="M445.0,355.4 C447.1,347.5 457.1,346.8 454.3,356.1 C452.0,363.0 444.3,366.4 440.3,373.2 L450.8,372.8 M460.3,354.1 L467.4,348.8 L459.2,373.2" fill="none" stroke="#16150a" stroke-width="3.5" stroke-linecap="round" stroke-linejoin="round"/>
<path d="M798.5,219.5 L809.9,218.8 C803.2,228.0 798.8,236.0 794.8,245.2" fill="none" stroke="#16150a" stroke-width="3.5" stroke-linecap="round" stroke-linejoin="round"/>
<path d="M798.7,287.6 C795.8,286.6 798.0,276.8 801.5,276.8 C804.9,276.8 802.3,286.6 798.7,287.6 C794.7,288.5 791.9,300.2 795.5,300.2 C799.5,300.2 802.3,288.5 798.7,287.6 Z" fill="none" stroke="#16150a" stroke-width="3.5" stroke-linecap="round" stroke-linejoin="round"/>
<path d="M1427.6,119.3 L1421.0,119.3 L1417.1,130.7 C1421.8,126.7 1425.6,129.9 1423.3,137.3 C1420.7,145.8 1414.5,146.6 1413.0,141.5" fill="none" stroke="#16150a" stroke-width="3.5" stroke-linecap="round" stroke-linejoin="round"/>
<path d="M1416.6,210.2 L1423.1,186.8 L1410.7,203.2 L1421.3,203.2" fill="none" stroke="#16150a" stroke-width="3.5" stroke-linecap="round" stroke-linejoin="round"/>
<path d="M1282.0,275.6 C1284.2,267.5 1293.2,266.7 1290.4,276.4 C1288.1,283.5 1281.1,287.1 1277.3,294.2 L1286.7,293.7" fill="none" stroke="#16150a" stroke-width="3.5" stroke-linecap="round" stroke-linejoin="round"/>
<path d="M1283.4,359.7 L1290.3,359.2 L1283.8,369.0 C1288.6,368.1 1286.1,382.0 1281.5,383.2 C1279.4,383.7 1278.1,382.0 1278.0,379.3" fill="none" stroke="#16150a" stroke-width="3.5" stroke-linecap="round" stroke-linejoin="round"/>
<path d="M1417.8,427.7 L1424.6,422.8 L1417.0,445.2 M1434.6,422.8 C1440.5,422.8 1435.1,445.2 1429.2,445.2 C1423.3,445.2 1428.7,422.8 1434.6,422.8 Z" fill="none" stroke="#16150a" stroke-width="3.5" stroke-linecap="round" stroke-linejoin="round"/>
<path d="M1287.5,468.3 C1289.8,459.3 1281.9,459.3 1279.9,467.8 C1278.3,474.4 1285.1,474.9 1287.5,468.3 L1281.8,484.2" fill="none" stroke="#16150a" stroke-width="3.5" stroke-linecap="round" stroke-linejoin="round"/>
<path d="M1460.7,554.1 L1464.8,548.8 L1457.8,573.2 M1467.8,554.1 L1471.9,548.8 L1464.9,573.2" fill="none" stroke="#16150a" stroke-width="3.5" stroke-linecap="round" stroke-linejoin="round"/>
<path d="M1384.0,983.1 L1386.6,977.8 L1380.2,1002.2" fill="none" stroke="#16150a" stroke-width="3.5" stroke-linecap="round" stroke-linejoin="round"/>
<path d="M242.7,1000.9 C245.1,992.4 259.6,991.6 256.3,1001.7 C253.7,1009.1 242.7,1012.8 237.6,1020.2 L252.9,1019.7 M261.1,1000.9 C263.4,992.4 277.9,991.6 274.7,1001.7 C272.0,1009.1 261.1,1012.8 255.9,1020.2 L271.2,1019.7" fill="none" stroke="#16150a" stroke-width="3.5" stroke-linecap="round" stroke-linejoin="round"/>
<path d="M576.4,988.6 L581.2,982.8 L573.5,1009.2 M590.0,983.8 C586.6,984.9 582.1,994.7 580.4,1001.8 C578.3,1010.6 583.9,1010.6 586.1,1001.3 C588.0,993.4 583.8,993.9 580.9,1000.2" fill="none" stroke="#16150a" stroke-width="3.5" stroke-linecap="round" stroke-linejoin="round"/>
<path d="M637.8,988.6 L643.4,982.8 L635.3,1009.2 M654.7,983.3 L649.3,983.3 L645.6,994.7 C649.6,990.7 652.6,993.9 650.4,1001.3 C647.9,1009.8 642.7,1010.6 641.8,1005.5" fill="none" stroke="#16150a" stroke-width="3.5" stroke-linecap="round" stroke-linejoin="round"/>
<path d="M735.3,988.6 L739.9,982.8 L732.2,1009.2 M741.1,1009.2 L748.0,982.8 L738.6,1001.3 L744.8,1001.3" fill="none" stroke="#16150a" stroke-width="3.5" stroke-linecap="round" stroke-linejoin="round"/>
<path d="M828.9,988.6 L834.7,982.8 L826.6,1009.2 M839.2,983.8 L846.2,983.3 L839.5,993.9 C844.4,992.8 841.6,1007.9 836.9,1009.2 C834.8,1009.8 833.4,1007.9 833.4,1005.0" fill="none" stroke="#16150a" stroke-width="3.5" stroke-linecap="round" stroke-linejoin="round"/>
<path d="M514.1,355.4 C516.2,347.5 527.7,346.8 524.8,356.1 C522.4,363.0 513.7,366.4 509.4,373.2 L521.4,372.8 M533.8,365.2 C534.6,359.8 526.9,359.8 525.5,367.2 C524.0,374.3 531.7,373.9 533.4,367.2 L532.6,373.2" fill="none" stroke="#16150a" stroke-width="3.5" stroke-linecap="round" stroke-linejoin="round"/>
<path d="M591.9,349.7 L601.9,349.2 L593.5,359.0 C600.4,358.1 598.3,372.0 591.7,373.2 C588.7,373.7 586.6,372.0 586.2,369.3 M608.8,365.2 C609.6,359.8 602.3,359.8 600.9,367.2 C599.4,374.3 606.8,373.9 608.4,367.2 L607.6,373.2" fill="none" stroke="#16150a" stroke-width="3.5" stroke-linecap="round" stroke-linejoin="round"/>
</svg></body></html>
